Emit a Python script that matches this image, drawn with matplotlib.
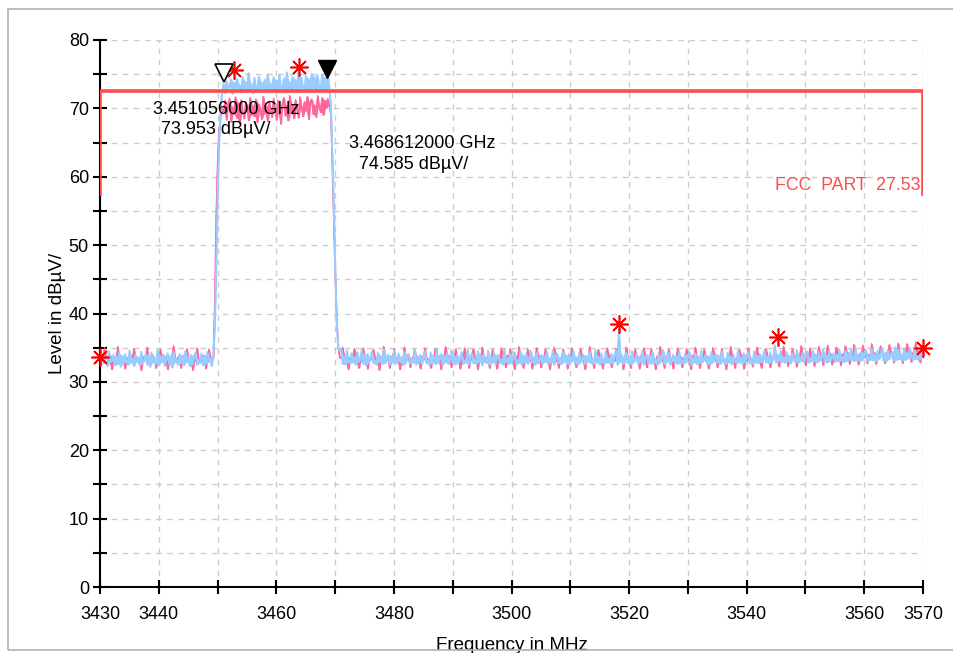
import matplotlib
matplotlib.use("Agg")
import matplotlib.pyplot as plt
import numpy as np
from matplotlib.patches import Rectangle

plt.rcParams['font.family'] = ['Liberation Sans', 'DejaVu Sans']

# barrido 3430 - 3570 MHz, una muestra cada 0.25 MHz
f_ini = 3430.0
f_fin = 3570.0
paso = 0.25

# traza azul (max peak): piso izquierdo, flanco, canal, flanco, piso derecho
azul_piso_izq = [
    33.9, 32.5, 34.2, 32.8, 33.4, 32.3, 34.5, 32.9, 33.1, 34.0,
    32.4, 33.7, 32.6, 34.3, 32.2, 33.8, 32.7, 34.1, 33.0, 32.5,
    34.6, 32.8, 33.5, 32.3, 34.0, 32.9, 33.6, 32.4, 34.4, 32.7,
    33.2, 34.1, 32.5, 33.9, 32.2, 34.3, 32.8, 33.4, 32.6, 34.7,
    32.4, 33.8, 32.9, 34.0, 32.3, 33.5, 34.2, 32.6, 33.7, 32.1,
    34.4, 32.8, 33.3, 32.5, 34.1, 32.7, 33.9, 32.4, 34.5, 32.9,
    33.6, 32.3, 34.0, 32.6, 33.8, 34.3, 32.5, 33.2, 32.8, 34.2,
    32.4, 33.7, 32.6, 34.4, 32.9, 33.5, 32.3, 34.0]
azul_subida = [38.0, 47.0, 58.0, 65.0, 70.0, 72.5]
azul_canal = [
    73.6, 72.2, 74.0, 72.6, 73.2, 74.3, 72.1, 73.8, 72.5, 74.4,
    72.9, 73.5, 72.3, 74.6, 72.7, 73.9, 72.4, 75.2, 72.8, 73.6,
    72.2, 74.5, 73.0, 72.6, 74.7, 72.4, 73.8, 72.9, 74.2, 72.3,
    75.0, 72.7, 73.7, 72.5, 74.6, 72.8, 74.1, 72.4, 74.9, 73.0,
    72.6, 74.4, 72.3, 75.3, 72.8, 73.9, 72.5, 74.7, 72.9, 74.2,
    72.4, 75.6, 72.7, 74.5, 73.1, 72.6, 74.8, 72.8, 74.3, 72.5,
    75.1, 72.9, 74.6, 72.7, 74.9, 73.0, 72.6, 75.0, 72.8, 74.5,
    72.7, 74.8, 72.9]
azul_bajada = [70.5, 63.0, 56.0, 46.0, 38.0, 35.0, 34.5]
azul_piso_der = [
    34.9, 32.6, 33.8, 32.5, 34.6, 33.0, 32.7, 34.2, 32.8, 33.6,
    32.5, 34.4, 32.9, 33.3, 34.7, 32.6, 33.9, 32.4, 34.1, 32.8,
    33.5, 34.5, 32.7, 33.2, 32.5, 34.3, 32.9, 33.8, 32.6, 34.8,
    32.7, 33.4, 34.0, 32.5, 33.7, 32.8, 34.6, 32.6, 33.1, 34.2,
    32.9, 33.6, 32.4, 34.4, 32.7, 33.9, 34.1, 32.6, 33.3, 32.8,
    34.7, 32.5, 33.8, 32.9, 34.0, 32.6, 33.5, 34.5, 32.7, 33.2,
    32.4, 34.3, 32.8, 33.7, 32.6, 34.9, 32.7, 33.4, 34.1, 32.5,
    33.9, 32.8, 34.2, 32.6, 33.3, 34.6, 32.7, 33.8, 32.5, 34.0,
    32.9, 33.5, 34.4, 32.6, 33.1, 32.8, 34.7, 32.5, 33.7, 34.2,
    32.7, 33.4, 32.6, 34.5, 32.9, 33.9, 32.4, 34.1, 33.2, 32.7,
    34.6, 32.5, 33.6, 32.8, 34.3, 32.6, 33.8, 34.0, 32.7, 33.3,
    32.5, 34.8, 32.9, 33.5, 32.6, 34.2, 32.8, 33.7, 34.4, 32.6,
    33.2, 32.7, 34.5, 32.5, 33.9, 32.9, 34.1, 32.6, 33.4, 34.6,
    32.8, 33.6, 32.5, 34.3, 32.7, 33.1, 34.0, 32.6, 33.8, 32.9,
    34.5, 32.6, 33.3, 32.8, 34.7, 32.5, 33.7, 34.2, 32.7, 33.5,
    32.6, 34.4, 32.9, 33.9, 32.5, 34.1, 32.8, 33.2, 34.6, 32.7,
    33.6, 32.5, 34.3, 32.8, 33.4, 34.0, 32.6, 33.8, 32.9, 34.5,
    32.7, 33.3, 32.6, 34.7, 32.8, 33.7, 32.5, 34.2, 33.0, 32.6,
    34.4, 32.8, 33.5, 32.7, 34.1, 32.6, 33.9, 34.6, 32.5, 37.6,
    32.9, 34.0, 32.6, 33.4, 34.3, 32.7, 33.8, 32.5, 34.5, 32.8,
    33.2, 34.1, 32.6, 33.7, 32.9, 34.6, 32.5, 33.5, 34.0, 32.7,
    33.9, 32.6, 34.4, 32.8, 33.3, 32.5, 34.2, 32.7, 33.6, 34.7,
    32.6, 33.8, 32.9, 34.3, 32.5, 33.4, 34.0, 32.8, 33.7, 32.6,
    34.5, 32.7, 33.2, 32.6, 34.1, 32.9, 33.9, 34.4, 32.5, 33.5,
    32.8, 34.2, 32.6, 33.6, 32.7, 34.6, 32.9, 33.3, 34.0, 32.6,
    33.8, 32.5, 34.4, 32.8, 33.5, 34.1, 32.7, 33.9, 32.6, 34.5,
    32.9, 33.4, 32.6, 34.3, 32.8, 33.7, 32.5, 34.0, 33.1, 32.7,
    34.6, 32.8, 33.6, 32.6, 34.2, 32.9, 33.8, 34.4, 32.7, 33.3,
    32.6, 34.5, 32.8, 33.9, 32.7, 34.1, 32.9, 33.5, 34.7, 32.8,
    33.7, 32.7, 34.3, 32.9, 33.4, 35.4, 32.8, 33.9, 33.0, 34.6,
    32.9, 33.6, 32.8, 34.4, 33.0, 33.8, 32.7, 34.2, 33.3, 32.9,
    34.7, 32.8, 33.7, 33.0, 34.3, 32.9, 34.0, 34.5, 32.8, 33.5,
    33.0, 34.6, 32.9, 33.8, 32.8, 34.4, 33.1, 33.6, 34.8, 32.9,
    33.9, 32.8, 34.5, 33.1, 33.6, 34.2, 32.9, 34.0, 33.0, 34.7,
    33.1, 33.7, 32.9, 34.6, 33.0, 34.1, 33.2, 34.9, 33.4, 33.0,
    34.8, 33.1, 33.9, 33.0, 34.5, 33.2, 34.2, 34.7, 33.0, 33.8,
    33.2, 34.9, 33.1, 34.0, 33.0, 34.6, 33.3, 33.8, 35.0, 33.1,
    34.2, 33.0, 34.7, 33.3, 33.9, 34.4, 33.1, 35.1, 33.2, 34.8,
    33.3, 34.0, 33.1, 34.9, 33.2, 34.3, 33.4, 35.0, 33.6, 33.2,
    35.1, 33.3, 34.2, 33.2, 34.8, 33.4, 35.2]

# traza rosa (average)
rosa_piso_izq = [
    33.4, 32.9, 33.8, 35.0, 33.2, 33.6, 32.8, 33.9, 31.8, 33.3,
    33.7, 33.0, 35.2, 33.5, 32.9, 33.8, 33.1, 31.9, 33.6, 33.4,
    33.0, 33.9, 32.8, 34.9, 33.3, 33.7, 32.9, 33.5, 31.7, 33.8,
    33.2, 33.6, 35.1, 33.0, 33.4, 32.8, 33.9, 33.3, 32.0, 33.7,
    33.1, 34.8, 33.5, 32.9, 33.8, 33.2, 31.8, 33.6, 33.0, 33.9,
    35.3, 33.4, 32.8, 33.7, 33.1, 32.0, 33.5, 33.9, 33.2, 34.9,
    33.6, 32.9, 33.4, 31.7, 33.8, 33.0, 35.0, 33.3, 32.8, 33.7,
    33.1, 33.9, 31.9, 33.5, 34.8, 33.2, 33.6, 33.4]
rosa_subida = [42.0, 55.0, 63.0, 67.0, 69.0, 70.0]
rosa_canal = [
    69.5, 71.2, 68.3, 70.6, 71.5, 68.0, 70.2, 69.1, 71.7, 68.6,
    70.9, 67.8, 71.3, 69.4, 68.5, 71.0, 70.1, 68.2, 71.6, 69.0,
    70.5, 68.8, 71.4, 67.9, 70.7, 69.6, 68.4, 71.8, 69.2, 70.3,
    68.1, 71.1, 69.8, 68.7, 71.5, 70.0, 68.3, 71.2, 69.5, 67.7,
    70.8, 71.6, 68.9, 70.4, 68.2, 71.9, 69.3, 70.6, 68.5, 71.3,
    69.9, 68.6, 71.7, 70.2, 68.8, 71.0, 69.6, 71.8, 68.4, 70.9,
    71.4, 69.1, 70.5, 68.7, 71.9, 70.3, 69.4, 71.6, 69.0, 71.2,
    70.1, 71.5, 70.4]
rosa_bajada = [69.0, 61.0, 53.0, 45.0, 39.0, 35.0, 33.5]
rosa_piso_der = [
    33.5, 35.1, 33.0, 33.8, 32.9, 31.8, 33.6, 33.2, 33.9, 34.9,
    33.1, 33.7, 32.0, 33.4, 33.0, 35.0, 33.8, 33.3, 31.9, 33.6,
    33.2, 33.9, 34.8, 33.0, 33.5, 32.8, 31.7, 33.7, 33.4, 35.2,
    33.0, 33.6, 33.3, 32.0, 33.8, 33.1, 34.9, 33.5, 32.9, 33.7,
    31.8, 33.4, 33.0, 35.1, 33.6, 33.2, 33.9, 32.1, 33.3, 33.7,
    34.8, 33.1, 33.5, 32.9, 31.9, 33.8, 33.2, 35.0, 33.6, 33.0,
    33.4, 32.0, 33.7, 33.1, 34.9, 33.5, 32.9, 33.8, 31.8, 33.3,
    33.6, 35.2, 33.0, 33.9, 33.2, 32.1, 33.5, 33.7, 34.8, 33.1,
    33.3, 31.9, 33.8, 33.0, 35.0, 33.4, 33.6, 32.0, 33.2, 33.9,
    34.9, 33.1, 33.5, 31.8, 33.7, 33.3, 35.1, 32.9, 33.6, 33.0,
    33.8, 32.0, 33.2, 34.8, 33.5, 33.1, 31.9, 33.7, 33.4, 35.0,
    33.0, 33.6, 32.1, 33.9, 33.3, 34.9, 33.1, 33.5, 31.8, 33.8,
    33.2, 35.2, 33.0, 33.7, 32.0, 33.4, 33.6, 34.8, 33.1, 33.9,
    31.9, 33.3, 33.5, 35.0, 33.0, 33.8, 32.1, 33.2, 33.6, 34.9,
    33.4, 33.1, 31.8, 33.7, 33.5, 35.1, 33.0, 33.9, 32.0, 33.3,
    33.6, 34.8, 33.2, 33.8, 31.9, 33.4, 33.0, 35.0, 33.7, 33.1,
    32.1, 33.5, 33.9, 34.9, 33.3, 33.0, 31.8, 33.6, 33.2, 35.2,
    33.8, 33.1, 32.0, 33.5, 33.4, 34.8, 33.0, 33.7, 31.9, 33.3,
    33.6, 35.0, 33.2, 33.9, 32.1, 33.4, 33.0, 34.9, 33.5, 36.2,
    33.1, 33.7, 31.8, 33.3, 35.1, 33.6, 33.0, 32.0, 33.8, 33.4,
    34.8, 33.2, 33.5, 31.9, 33.9, 33.1, 35.0, 33.6, 32.1, 33.3,
    33.7, 34.9, 33.0, 33.4, 31.8, 33.8, 33.2, 35.2, 33.5, 33.1,
    32.0, 33.6, 33.9, 34.8, 33.3, 33.0, 31.9, 33.7, 33.4, 35.0,
    33.2, 33.8, 32.1, 33.5, 33.1, 34.9, 33.6, 33.0, 31.8, 33.9,
    33.4, 35.1, 33.2, 33.7, 32.0, 33.3, 33.6, 34.8, 33.0, 33.8,
    31.9, 33.5, 33.1, 35.0, 33.9, 33.2, 32.1, 33.6, 33.4, 34.9,
    33.3, 33.0, 31.8, 33.7, 33.5, 35.2, 33.1, 33.8, 32.0, 33.4,
    33.6, 34.8, 33.2, 33.9, 31.9, 33.5, 33.0, 35.0, 33.7, 33.3,
    32.2, 33.6, 33.8, 35.1, 33.4, 33.1, 32.0, 33.7, 33.5, 34.9,
    33.9, 33.3, 32.1, 33.6, 33.4, 35.0, 33.2, 34.0, 32.2, 33.8,
    33.7, 35.2, 33.4, 34.0, 32.3, 33.6, 33.3, 34.9, 33.8, 33.5,
    32.2, 33.9, 33.6, 35.3, 33.4, 34.1, 32.4, 33.8, 33.5, 35.0,
    33.7, 33.4, 32.3, 34.0, 33.6, 35.2, 33.5, 34.1, 32.4, 33.8,
    33.9, 35.4, 33.6, 34.2, 32.5, 33.8, 33.5, 35.1, 34.0, 33.7,
    32.4, 34.1, 33.8, 35.3, 33.6, 34.3, 32.6, 33.9, 33.7, 35.5,
    34.0, 33.7, 32.5, 34.2, 33.9, 35.4, 33.6, 34.4, 32.7, 34.0,
    33.8, 35.6, 33.9, 34.3, 32.6, 34.1, 33.7, 35.3, 34.2, 33.9,
    32.7, 34.3, 34.0, 35.5, 33.8, 34.4, 32.8, 34.1, 33.9, 35.7,
    34.2, 33.9, 32.7, 34.5, 34.0, 35.6, 33.8, 34.6, 32.9, 34.3,
    34.1, 35.8, 34.0, 34.5, 32.8, 34.4, 34.7]

# linea limite FCC PART 27.53
limite_f = [3430, 3430, 3570, 3570]
limite_nivel = [57.5, 72.5, 72.5, 57.5]

# picos marcados con asterisco
picos_f = [3430.0, 3452.8, 3463.8, 3518.3, 3545.3, 3570.0]
picos_nivel = [33.6, 75.6, 76.0, 38.4, 36.5, 34.9]

# marcadores (triangulos)
m1_f, m1_nivel = 3451.056, 73.953
m2_f, m2_nivel = 3468.612, 74.585

azul = np.array(azul_piso_izq + azul_subida + azul_canal + azul_bajada + azul_piso_der)
rosa = np.array(rosa_piso_izq + rosa_subida + rosa_canal + rosa_bajada + rosa_piso_der)
freq = f_ini + np.arange(len(azul)) * paso

fig = plt.figure(figsize=(9.54, 6.53), dpi=100)
ax = fig.add_axes([100 / 954, 66 / 653, 823 / 954, 547 / 653])

# marco gris alrededor del grafico
fig.patches.append(Rectangle((8 / 954, 3 / 653), 1.0, 641 / 653, transform=fig.transFigure,
                             fill=False, edgecolor='#b0b0b0', linewidth=1.2))


def dibujar_traza(y, color, z, grosor):
    # relleno entre muestras vecinas, asi la traza se ve compacta
    lo = np.minimum(y[:-1], y[1:])
    hi = np.maximum(y[:-1], y[1:])
    xm = (freq[:-1] + freq[1:]) / 2
    ax.fill_between(xm, lo, hi, color=color, linewidth=0, zorder=z)
    ax.plot(freq, y, color=color, linewidth=grosor, zorder=z)


dibujar_traza(rosa, '#ff6699', 3, 0.8)
dibujar_traza(azul, '#99ccff', 4, 1.2)

ax.plot(limite_f, limite_nivel, color='#ff4d4d', linewidth=2.6, zorder=5, solid_joinstyle='miter')
ax.text(3569.5, 57.5, 'FCC  PART  27.53', color='#ff4d4d', fontsize=12.8, ha='right', va='bottom')

ax.plot(picos_f, picos_nivel, linestyle='none', marker=(8, 2, 0), markersize=13,
        markeredgecolor='#ff0000', markeredgewidth=1.2, zorder=7, clip_on=False)

ax.plot([m1_f], [m1_nivel + 1.2], marker='v', markersize=13, markerfacecolor='white',
        markeredgecolor='black', markeredgewidth=1.2, linestyle='none', zorder=8)
ax.plot([m2_f], [m2_nivel + 1.2], marker='v', markersize=13, color='black',
        linestyle='none', zorder=8)

# lecturas de los marcadores
ax.text(3439.0, 69.9, '%.9f GHz' % (m1_f / 1000), fontsize=13, ha='left', va='center', zorder=9)
ax.text(3440.4, 66.9, '%.3f dBµV/' % m1_nivel, fontsize=13, ha='left', va='center', zorder=9)
ax.text(3472.3, 64.8, '%.9f GHz' % (m2_f / 1000), fontsize=13, ha='left', va='center', zorder=9)
ax.text(3474.0, 61.8, '%.3f dBµV/' % m2_nivel, fontsize=13, ha='left', va='center', zorder=9)

ax.set_xlim(f_ini, f_fin)
ax.set_ylim(0, 80)
ax.set_xticks(np.arange(3430, 3571, 10))
ax.set_xticklabels(['3430', '3440', '', '3460', '', '3480', '', '3500', '', '3520', '',
                    '3540', '', '3560', '3570'])
ax.set_yticks(np.arange(0, 81, 5))
ax.set_yticklabels([str(v) if v % 10 == 0 else '' for v in range(0, 81, 5)])
ax.tick_params(direction='inout', length=10, width=1.5, labelsize=13)
ax.tick_params(axis='x', pad=9)
ax.tick_params(axis='y', pad=3)

ax.grid(True, color='#cccccc', linestyle=(0, (4, 4)), linewidth=1.0, zorder=0)
ax.set_axisbelow(True)
for lado in ['top', 'right']:
    ax.spines[lado].set_visible(False)
ax.spines['left'].set_linewidth(1.5)
ax.spines['bottom'].set_linewidth(1.5)

ax.set_xlabel('Frequency in MHz', fontsize=13.5, labelpad=10)
ax.set_ylabel('Level in dBµV/', fontsize=13.5, labelpad=2)

fig.savefig('out.png', dpi=100)
